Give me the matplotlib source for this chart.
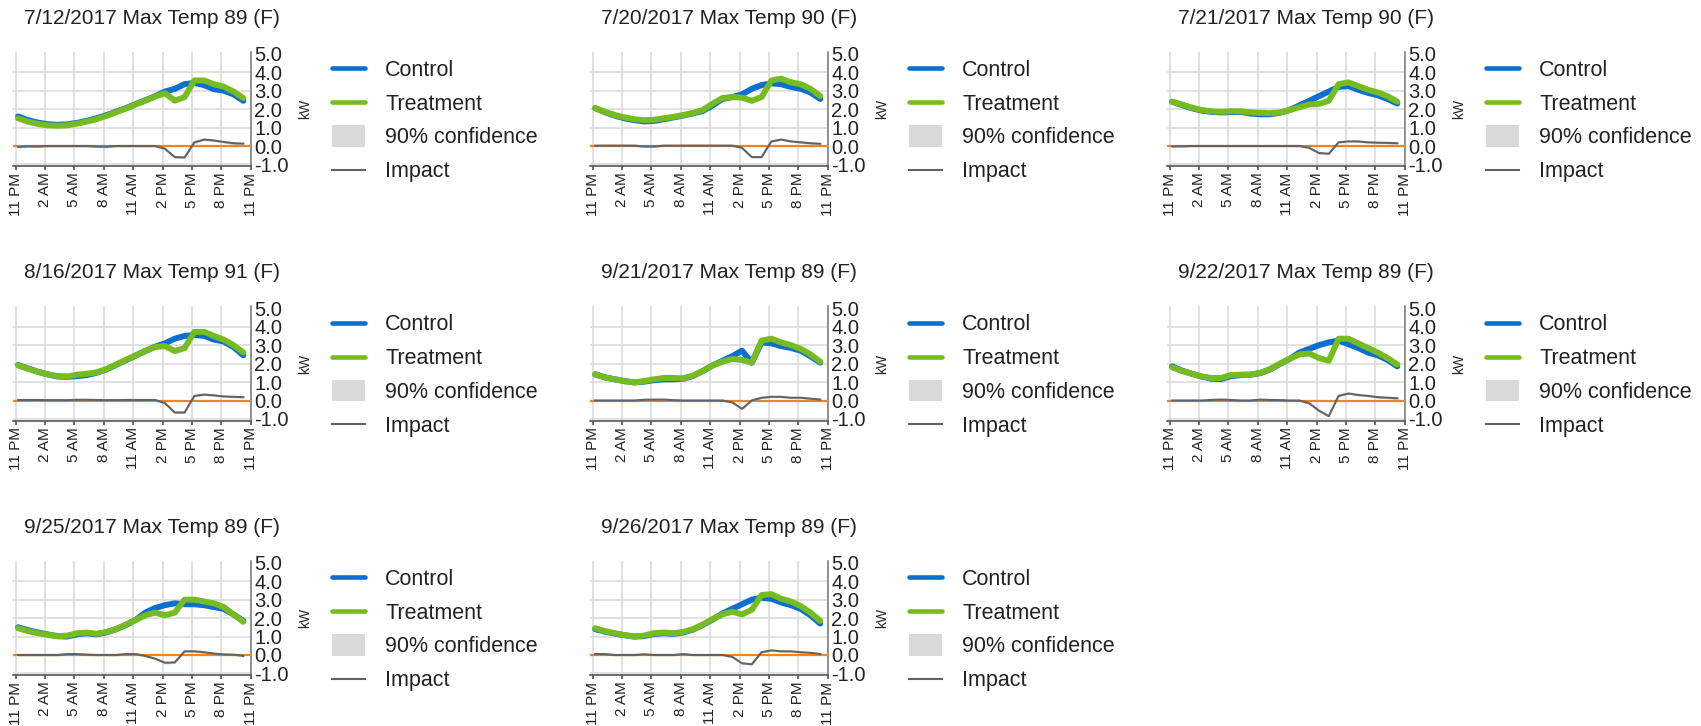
import numpy as np
import matplotlib
matplotlib.use('Agg')
import matplotlib.pyplot as plt
import matplotlib.patches as mpatches
from matplotlib.lines import Line2D
from matplotlib.legend_handler import HandlerPatch

plt.rcParams['font.family'] = ['Liberation Sans', 'DejaVu Sans']
plt.rcParams['axes.unicode_minus'] = False

# event days
days = ['7/12/2017', '7/20/2017', '7/21/2017', '8/16/2017',
        '9/21/2017', '9/22/2017', '9/25/2017', '9/26/2017']
max_temps = [89, 90, 90, 91, 89, 89, 89, 89]

# hourly readings, hours after 11 PM
hours = np.arange(24) + 0.25
tick_hours = [0, 3, 6, 9, 12, 15, 18, 21, 24]
tick_names = ['11 PM', '2 AM', '5 AM', '8 AM', '11 AM', '2 PM', '5 PM', '8 PM', '11 PM']

# kW per day
control_0712 = [1.6, 1.4, 1.27, 1.18, 1.15, 1.17, 1.25, 1.36, 1.5, 1.67, 1.86, 2.05,
                2.27, 2.48, 2.7, 2.95, 3.1, 3.35, 3.42, 3.3, 3.08, 3.0, 2.8, 2.45]
treatment_0712 = [1.5, 1.32, 1.2, 1.12, 1.1, 1.12, 1.21, 1.32, 1.45, 1.63, 1.83, 2.03,
                  2.25, 2.46, 2.68, 2.86, 2.46, 2.65, 3.55, 3.55, 3.35, 3.22, 2.95, 2.6]
impact_0712 = [-0.05, -0.02, -0.03, 0.0, 0.0, 0.0, 0.0, 0.0, -0.03, -0.04, 0.0, 0.0,
               0.0, 0.0, 0.0, -0.15, -0.6, -0.62, 0.2, 0.35, 0.3, 0.22, 0.15, 0.13]

control_0720 = [2.05, 1.83, 1.65, 1.5, 1.4, 1.33, 1.36, 1.45, 1.55, 1.65, 1.77, 1.9,
                2.2, 2.55, 2.65, 2.8, 3.1, 3.3, 3.4, 3.35, 3.2, 3.1, 2.9, 2.55]
treatment_0720 = [2.05, 1.85, 1.68, 1.55, 1.45, 1.4, 1.42, 1.5, 1.58, 1.68, 1.8, 1.95,
                  2.3, 2.6, 2.65, 2.62, 2.45, 2.65, 3.55, 3.65, 3.45, 3.35, 3.1, 2.7]
impact_0720 = [0.02, 0.02, 0.02, 0.02, 0.02, -0.03, -0.03, 0.02, 0.02, 0.02, 0.02, 0.02,
               0.02, 0.02, 0.02, -0.1, -0.6, -0.6, 0.25, 0.35, 0.25, 0.2, 0.15, 0.12]

control_0721 = [2.4, 2.22, 2.05, 1.92, 1.85, 1.82, 1.84, 1.85, 1.76, 1.72, 1.72, 1.8,
                1.95, 2.2, 2.45, 2.7, 2.95, 3.2, 3.25, 3.05, 2.88, 2.75, 2.55, 2.3]
treatment_0721 = [2.4, 2.25, 2.08, 1.95, 1.88, 1.85, 1.88, 1.88, 1.82, 1.8, 1.78, 1.82,
                  1.95, 2.1, 2.25, 2.28, 2.45, 3.35, 3.45, 3.25, 3.05, 2.9, 2.7, 2.4]
impact_0721 = [-0.02, -0.02, 0.0, 0.0, 0.0, 0.0, 0.0, 0.0, 0.0, 0.0, 0.0, 0.0,
               0.0, 0.0, -0.1, -0.38, -0.42, 0.2, 0.25, 0.25, 0.2, 0.18, 0.17, 0.15]

control_0816 = [1.92, 1.74, 1.56, 1.42, 1.3, 1.28, 1.32, 1.38, 1.5, 1.68, 1.93, 2.18,
                2.43, 2.68, 2.92, 3.1, 3.35, 3.5, 3.55, 3.5, 3.3, 3.2, 2.9, 2.45]
treatment_0816 = [1.9, 1.72, 1.55, 1.42, 1.32, 1.3, 1.4, 1.45, 1.52, 1.7, 1.95, 2.2,
                  2.45, 2.7, 2.9, 2.95, 2.68, 2.84, 3.72, 3.72, 3.5, 3.3, 3.0, 2.6]
impact_0816 = [0.03, 0.03, 0.03, 0.02, 0.02, 0.02, 0.04, 0.04, 0.03, 0.02, 0.02, 0.03,
               0.03, 0.03, 0.03, -0.15, -0.65, -0.65, 0.25, 0.32, 0.28, 0.22, 0.2, 0.18]

control_0921 = [1.42, 1.25, 1.15, 1.05, 0.98, 1.02, 1.1, 1.15, 1.15, 1.18, 1.33, 1.6,
                1.9, 2.15, 2.4, 2.7, 2.05, 3.15, 3.1, 2.95, 2.85, 2.7, 2.4, 2.05]
treatment_0921 = [1.42, 1.25, 1.15, 1.05, 0.98, 1.05, 1.15, 1.22, 1.22, 1.2, 1.35, 1.6,
                  1.9, 2.1, 2.25, 2.2, 2.05, 3.25, 3.35, 3.15, 3.0, 2.8, 2.5, 2.1]
impact_0921 = [0.0, 0.0, 0.0, 0.0, 0.0, 0.04, 0.05, 0.05, 0.02, 0.0, 0.0, 0.0,
               0.0, 0.0, -0.1, -0.45, 0.0, 0.15, 0.2, 0.2, 0.15, 0.15, 0.1, 0.05]

control_0922 = [1.85, 1.62, 1.45, 1.3, 1.18, 1.16, 1.32, 1.38, 1.4, 1.48, 1.68, 1.98,
                2.25, 2.6, 2.8, 3.0, 3.15, 3.25, 3.05, 2.85, 2.6, 2.45, 2.2, 1.85]
treatment_0922 = [1.8, 1.6, 1.45, 1.3, 1.22, 1.22, 1.38, 1.4, 1.4, 1.5, 1.7, 2.0,
                  2.25, 2.5, 2.55, 2.3, 2.15, 3.35, 3.35, 3.1, 2.85, 2.6, 2.3, 1.95]
impact_0922 = [0.0, 0.0, 0.0, 0.0, 0.03, 0.05, 0.03, 0.0, 0.0, 0.05, 0.03, 0.02,
               0.0, 0.0, -0.15, -0.55, -0.85, 0.25, 0.38, 0.3, 0.25, 0.18, 0.15, 0.12]

control_0925 = [1.5, 1.35, 1.22, 1.12, 1.02, 1.0, 1.12, 1.18, 1.12, 1.22, 1.4, 1.62,
                1.9, 2.3, 2.55, 2.7, 2.8, 2.75, 2.75, 2.7, 2.6, 2.5, 2.2, 1.85]
treatment_0925 = [1.45, 1.3, 1.18, 1.1, 1.02, 1.05, 1.18, 1.22, 1.15, 1.25, 1.4, 1.65,
                  1.9, 2.15, 2.3, 2.15, 2.3, 3.0, 3.0, 2.9, 2.8, 2.6, 2.2, 1.8]
impact_0925 = [0.0, 0.0, 0.0, 0.0, 0.0, 0.05, 0.05, 0.02, 0.0, 0.0, 0.0, 0.05,
               0.05, -0.05, -0.2, -0.42, -0.4, 0.2, 0.2, 0.15, 0.08, 0.03, 0.02, -0.05]

control_0926 = [1.4, 1.27, 1.16, 1.07, 1.0, 1.02, 1.14, 1.18, 1.15, 1.22, 1.38, 1.63,
                1.92, 2.25, 2.5, 2.75, 3.0, 3.1, 3.05, 2.85, 2.7, 2.5, 2.15, 1.7]
treatment_0926 = [1.45, 1.3, 1.18, 1.08, 1.0, 1.05, 1.18, 1.22, 1.18, 1.25, 1.4, 1.65,
                  1.95, 2.2, 2.35, 2.2, 2.45, 3.25, 3.3, 3.05, 2.9, 2.65, 2.3, 1.85]
impact_0926 = [0.05, 0.05, 0.0, 0.0, 0.0, 0.04, 0.0, 0.0, 0.0, 0.05, 0.0, 0.0,
               0.0, 0.0, -0.1, -0.45, -0.5, 0.15, 0.25, 0.2, 0.2, 0.15, 0.12, 0.05]

# half width of the 90% band around the impact
ci_half = [0.06, 0.05, 0.05, 0.05, 0.05, 0.05, 0.06, 0.05]

controls = [control_0712, control_0720, control_0721, control_0816,
            control_0921, control_0922, control_0925, control_0926]
treatments = [treatment_0712, treatment_0720, treatment_0721, treatment_0816,
              treatment_0921, treatment_0922, treatment_0925, treatment_0926]
impacts = [impact_0712, impact_0720, impact_0721, impact_0816,
           impact_0921, impact_0922, impact_0925, impact_0926]

BLUE = '#0a6fcf'
GREEN = '#76bc21'
GRAY = '#636363'
BAND = '#d9d9d9'
ORANGE = '#f58220'
GRID = '#d9d9d9'
TXT = '#222222'

W, H = 1701, 726
fig = plt.figure(figsize=(W / 100, H / 100), dpi=100)

px_hr = 9.79
px_kw = 18.45
x0, x1 = -0.3, 24.0
y0, y1 = -1.1, 5.12


def fx(px):
    return px / W


def fy(py):
    return 1 - py / H


def tall_patch(legend, orig_handle, xdescent, ydescent, width, height, fontsize):
    return mpatches.Rectangle((-xdescent, -ydescent - 0.22 * height), width, height * 1.44)


for i in range(len(days)):
    row, col = divmod(i, 3)
    tick0 = 15.7 + 577 * col
    zero = 146 + 254.5 * row

    left = tick0 + x0 * px_hr
    right = tick0 + x1 * px_hr
    top = zero - y1 * px_kw
    bottom = zero - y0 * px_kw
    ax = fig.add_axes([fx(left), fy(bottom), fx(right - left), (bottom - top) / H])

    h = hours
    imp = np.array(impacts[i])
    ax.fill_between(h, imp - ci_half[i], imp + ci_half[i], color=BAND, lw=0, zorder=2)
    ax.axhline(0, color=ORANGE, lw=1.6, zorder=3)
    ax.plot(h, imp, color=GRAY, lw=1.5, zorder=4)
    ax.plot(h, controls[i], color=BLUE, lw=4.3, solid_capstyle='round', zorder=5)
    ax.plot(h, treatments[i], color=GREEN, lw=4.3, solid_capstyle='round', zorder=6)

    ax.set_xlim(x0, x1)
    ax.set_ylim(y0, y1)
    ax.set_xticks(tick_hours)
    ax.set_xticklabels(tick_names, rotation=90, fontsize=11, color=TXT)
    ax.set_yticks([-1, 0, 1, 2, 3, 4, 5])
    ax.set_yticklabels(['-1.0', '0.0', '1.0', '2.0', '3.0', '4.0', '5.0'], fontsize=14.5, color=TXT)
    ax.yaxis.tick_right()
    ax.tick_params(axis='y', length=0, pad=2.5)
    ax.tick_params(axis='x', length=3, width=1.1, color='#444444', pad=1.5)
    ax.grid(True, color=GRID, lw=1.1, zorder=0)
    ax.yaxis.get_gridlines()[-1].set_visible(False)
    for s in ['left', 'top']:
        ax.spines[s].set_visible(False)
    ax.spines['bottom'].set_color('#555555')
    ax.spines['bottom'].set_linewidth(1.2)
    ax.spines['right'].set_color('#777777')
    ax.spines['right'].set_linewidth(1.1)
    ax.set_axisbelow(True)

    fig.text(fx(tick0 + 8.5), fy(zero - 127.5), '%s Max Temp %d (F)' % (days[i], max_temps[i]),
             ha='left', va='center', fontsize=15, color=TXT)
    fig.text(fx(tick0 + 289.5), fy(zero - 37), 'kW', rotation=90,
             ha='center', va='center', fontsize=10, color=TXT)

    handles = [Line2D([], [], color=BLUE, lw=3.3, solid_capstyle='round'),
               Line2D([], [], color=GREEN, lw=3.3, solid_capstyle='round'),
               mpatches.Patch(color=BAND, lw=0),
               Line2D([], [], color=GRAY, lw=1.5)]
    ax.legend(handles, ['Control', 'Treatment', '90% confidence', 'Impact'],
              loc='center left', bbox_to_anchor=(fx(tick0 + 316), fy(zero - 25)),
              bbox_transform=fig.transFigure, frameon=False, fontsize=15.5,
              handlelength=1.55, handletextpad=0.93, labelspacing=0.6,
              borderpad=0, borderaxespad=0, labelcolor=TXT,
              handler_map={mpatches.Patch: HandlerPatch(patch_func=tall_patch)})

fig.savefig('out.png', dpi=100)
